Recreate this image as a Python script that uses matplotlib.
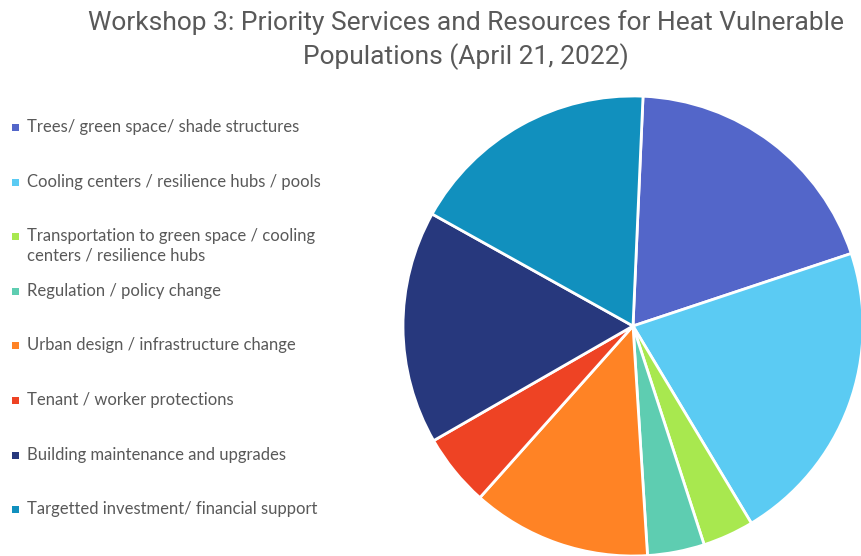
import matplotlib.pyplot as plt

# share of responses per category (%), in order clockwise from the top
labels = [
    "Trees/ green space/ shade structures",
    "Cooling centers / resilience hubs / pools",
    "Transportation to green space / cooling\ncenters / resilience hubs",
    "Regulation / policy change",
    "Urban design / infrastructure change",
    "Tenant / worker protections",
    "Building maintenance and upgrades",
    "Targetted investment/ financial support",
]
shares = [19.2, 21.5, 3.6, 4.0, 12.6, 5.1, 16.4, 17.6]
colors = ["#5366C9", "#5BCBF3", "#A8E84F", "#5ECDB1",
          "#FF8325", "#EE4324", "#27387D", "#1190BE"]

TITLE = "Workshop 3: Priority Services and Resources for Heat Vulnerable\nPopulations (April 21, 2022)"
TEXT_COLOR = "#595959"

W, H = 862, 556
fig = plt.figure(figsize=(W / 100, H / 100), dpi=100)

# pie axes: centre (633, 326) px, radius 230 px
cx, cy, r = 633, 326, 230
ax = fig.add_axes([(cx - r) / W, (H - cy - r) / H, 2 * r / W, 2 * r / H])
ax.pie(shares, colors=colors, startangle=87.5, counterclock=False,
       wedgeprops=dict(edgecolor="white", linewidth=2))
ax.set_xlim(-1, 1)
ax.set_ylim(-1, 1)
ax.set_aspect("equal")
ax.axis("off")

fig.text(466 / W, 1 - 40 / H, TITLE, ha="center", va="center",
         fontsize=19, color=TEXT_COLOR, family="Roboto",
         linespacing=1.35)

# legend drawn by hand, one row every ~54.5 px
y0, step = 127, 54.6
for i, (lab, col) in enumerate(zip(labels, colors)):
    y = y0 + i * step
    fig.patches.append(plt.Rectangle((12 / W, 1 - (y + 4) / H), 7 / W, 7 / H,
                                     transform=fig.transFigure,
                                     facecolor=col, edgecolor="none"))
    fig.text(27 / W, 1 - (y - 8) / H, lab, ha="left", va="top",
             fontsize=12, color=TEXT_COLOR, family="Lato", linespacing=1.25)

fig.savefig("out.png", dpi=100)
